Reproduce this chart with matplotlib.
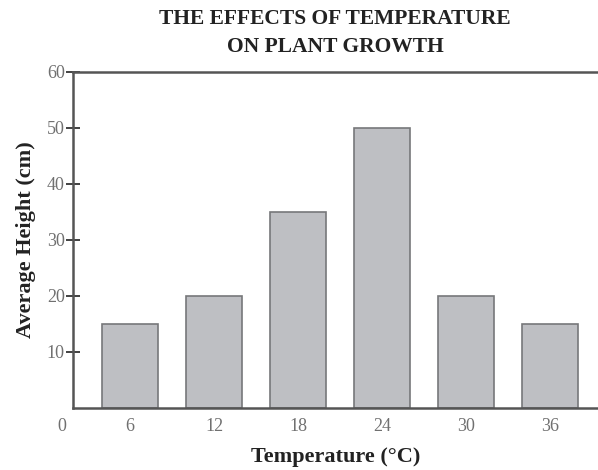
import matplotlib
matplotlib.use("Agg")
import matplotlib.pyplot as plt

temps = ["6", "12", "18", "24", "30", "36"]
heights = [15, 20, 35, 50, 20, 15]
yticks = [10, 20, 30, 40, 50, 60]

plt.rcParams['font.family'] = ['Liberation Serif', 'DejaVu Serif']

fig = plt.figure(figsize=(5.98, 4.70), dpi=100)
ax = fig.add_axes([73/598, 1-408/470, 1-73/598, (408-72)/470])

pos = list(range(len(temps)))
ax.bar(pos, heights, width=0.67, color='#bebfc3', edgecolor='#77787a', linewidth=1.2, zorder=2)

ax.set_yticks(yticks)
ax.set_yticklabels([str(v) for v in yticks], color='#707070', fontsize=13)
ax.tick_params(axis='y', direction='inout', length=10, width=1.3, color='#333333', pad=1)

ax.set_xticks(pos)
ax.set_xticklabels(temps, color='#707070', fontsize=13)
ax.tick_params(axis='x', length=0, pad=7)

ax.set_xlim(-0.68, 5.57)
ax.set_ylim(0, 60)

ax.annotate("0", xy=(-0.81, 0), xycoords='data', xytext=(0, -7), textcoords='offset points',
            ha='center', va='top', fontsize=13, color='#707070', annotation_clip=False)

for s in ['left', 'top', 'bottom']:
    ax.spines[s].set_color('#555555')
    ax.spines[s].set_linewidth(1.8)
ax.spines['right'].set_visible(False)

ax.set_xlabel("Temperature (°C)", fontsize=16, fontweight='bold', color='#222222', labelpad=9)
ax.set_ylabel("Average Height (cm)", fontsize=16, fontweight='bold', color='#222222', labelpad=8)

fig.text(335/598, 1-24/470, "THE EFFECTS OF TEMPERATURE", ha='center', va='baseline',
         fontsize=15.5, fontweight='bold', color='#222222')
fig.text(335/598, 1-52/470, "ON PLANT GROWTH", ha='center', va='baseline',
         fontsize=15.5, fontweight='bold', color='#222222')

fig.savefig("out.png", dpi=100)
